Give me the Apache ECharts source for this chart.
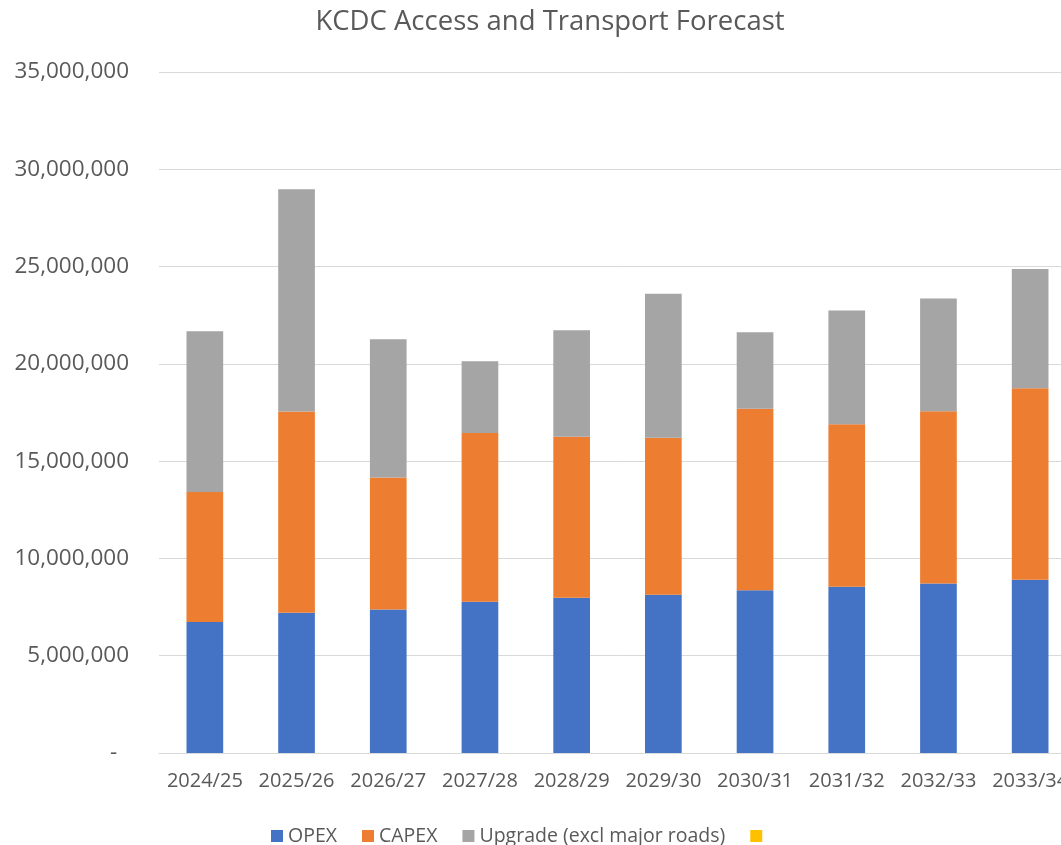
<!DOCTYPE html>
<html>
<head>
<meta charset="utf-8">
<script src="https://cdn.jsdelivr.net/npm/echarts@6/dist/echarts.min.js"></script>
<style>
  html, body { margin: 0; padding: 0; background: #fff; overflow: hidden; }
  #chart { width: 1100px; height: 845px; }
</style>
</head>
<body>
<div id="chart"></div>
<script>
const categories = ['2024/25', '2025/26', '2026/27', '2027/28', '2028/29', '2029/30', '2030/31', '2031/32', '2032/33', '2033/34'];
const opex = [6730000, 7210000, 7380000, 7770000, 7980000, 8130000, 8370000, 8540000, 8710000, 8900000];
const capex = [6690000, 10340000, 6780000, 8680000, 8270000, 8070000, 9320000, 8350000, 8860000, 9850000];
const upgrade = [8260000, 11430000, 7110000, 3690000, 5480000, 7400000, 3940000, 5850000, 5790000, 6120000];
const blank = [];
const yTicks = [0, 5000000, 10000000, 15000000, 20000000, 25000000, 30000000, 35000000];

const font = 'Open Sans';
const chart = echarts.init(document.getElementById('chart'));

const option = {
  animation: false,
  textStyle: { fontFamily: font },
  title: {
    text: 'KCDC Access and Transport Forecast',
    left: 'center',
    top: 3,
    textStyle: { fontFamily: font, fontWeight: 'normal', fontSize: 27.5, color: '#595959' }
  },
  legend: {
    data: ['OPEX', 'CAPEX', 'Upgrade (excl major roads)', ' '],
    left: 266,
    top: 821,
    icon: 'rect',
    itemWidth: 12,
    itemHeight: 12,
    itemGap: 25,
    textStyle: { fontFamily: font, fontSize: 19.5, color: '#595959' }
  },
  grid: { left: 159, right: 24, top: 72, bottom: 92, containLabel: false },
  xAxis: {
    type: 'category',
    data: categories,
    axisLine: { lineStyle: { color: '#d9d9d9', width: 1 } },
    axisTick: { show: false },
    axisLabel: { color: '#595959', fontSize: 20, margin: 18, interval: 0, fontFamily: font }
  },
  yAxis: {
    type: 'value',
    min: yTicks[0],
    max: yTicks[yTicks.length - 1],
    interval: 5000000,
    axisLine: { show: false },
    axisTick: { show: false },
    splitLine: { lineStyle: { color: '#d9d9d9', width: 1 } },
    axisLabel: {
      color: '#595959',
      fontSize: 22.5,
      margin: 30,
      fontFamily: font,
      formatter: v => v === 0 ? '-  ' : v.toLocaleString('en-US')
    }
  },
  series: [
    { name: 'OPEX', type: 'bar', stack: 'total', data: opex, barWidth: '40%', itemStyle: { color: '#4472C4' } },
    { name: 'CAPEX', type: 'bar', stack: 'total', data: capex, itemStyle: { color: '#ED7D31' } },
    { name: 'Upgrade (excl major roads)', type: 'bar', stack: 'total', data: upgrade, itemStyle: { color: '#A5A5A5' } },
    { name: ' ', type: 'bar', stack: 'total', data: blank, itemStyle: { color: '#FFC000' } }
  ]
};

chart.setOption(option);
</script>
</body>
</html>
